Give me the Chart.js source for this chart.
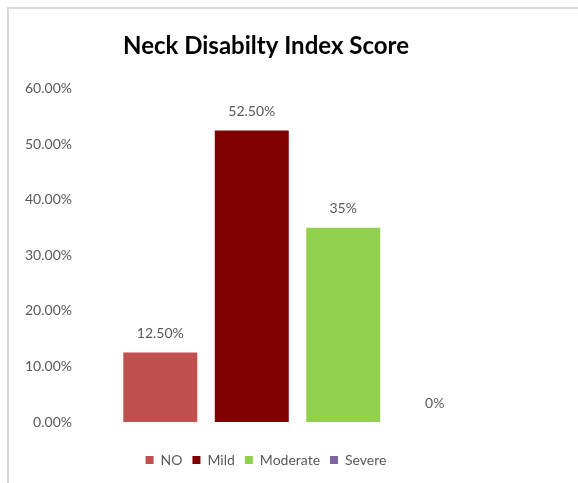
<!DOCTYPE html>
<html>
<head>
<meta charset="utf-8">
<script src="https://cdn.jsdelivr.net/npm/chart.js@4"></script>
<style>
  body { margin: 0; background: #fff; }
  #frame {
    position: absolute; left: 7px; top: 7px; width: 700px; height: 600px;
    border-left: 2px solid #d9d9d9; border-top: 2px solid #d9d9d9;
  }
  #wrap { position: absolute; left: 0; top: 0; width: 532px; height: 483px; }
</style>
</head>
<body>
<div id="frame"></div>
<div id="wrap"><canvas id="ndiChart"></canvas></div>
<script>
// Neck Disability Index - one series per severity level
var categories = [""];
var seriesNames = ["NO", "Mild", "Moderate", "Severe"];
var seriesValues = [12.5, 52.5, 35, 0];
var valueLabels = ["12.50%", "52.50%", "35%", "0%"];
var seriesColors = ["#C0504D", "#7F0000", "#92D050", "#8064A2"];
var yTicks = [0, 10, 20, 30, 40, 50, 60];

var textGray = "#595959";

// draws the value text above each bar (no datalabels plugin available)
var barLabels = {
  id: "barLabels",
  afterDatasetsDraw: function (chart) {
    var ctx = chart.ctx;
    ctx.save();
    ctx.font = "14px Lato";
    ctx.fillStyle = textGray;
    ctx.textAlign = "center";
    ctx.textBaseline = "middle";
    chart.data.datasets.forEach(function (ds, i) {
      var bar = chart.getDatasetMeta(i).data[0];
      ctx.fillText(valueLabels[i], bar.x, bar.y - 19);
    });
    ctx.restore();
  },
};

var datasets = seriesNames.map(function (name, i) {
  return {
    label: name,
    data: [seriesValues[i]],
    backgroundColor: seriesColors[i],
    categoryPercentage: 0.841,
    barPercentage: 0.809,
  };
});

new Chart(document.getElementById("ndiChart"), {
  type: "bar",
  data: { labels: categories, datasets: datasets },
  options: {
    responsive: true,
    maintainAspectRatio: false,
    animation: false,
    layout: { padding: { left: 0, right: 0, top: 0, bottom: 6 } },
    scales: {
      x: {
        grid: { display: false },
        border: { display: false },
        ticks: { display: false },
        afterFit: function (s) { s.height = 21; },
      },
      y: {
        min: 0,
        max: 60,
        grid: { display: false },
        border: { display: false },
        afterFit: function (s) { s.width = 80; },
        afterBuildTicks: function (s) {
          s.ticks = yTicks.map(function (v) { return { value: v }; });
        },
        ticks: {
          padding: 0,
          color: textGray,
          font: { family: "Lato", size: 14 },
          callback: function (v) { return v.toFixed(2) + "%"; },
        },
      },
      // empty right-hand spacer so the plot stops short of the canvas edge
      yRight: {
        position: "right",
        grid: { display: false },
        border: { display: false },
        ticks: { display: false },
        afterFit: function (s) { s.width = 17; },
      },
    },
    plugins: {
      title: {
        display: true,
        text: "Neck Disabilty Index Score",
        color: "#000",
        font: { family: "Lato", size: 24, weight: "bold" },
        padding: { top: 32, bottom: 28 },
      },
      legend: {
        position: "bottom",
        labels: {
          boxWidth: 8,
          boxHeight: 8,
          padding: 10,
          color: textGray,
          font: { family: "Lato", size: 14 },
        },
      },
      tooltip: { enabled: false },
    },
  },
  plugins: [barLabels],
});
</script>
</body>
</html>
